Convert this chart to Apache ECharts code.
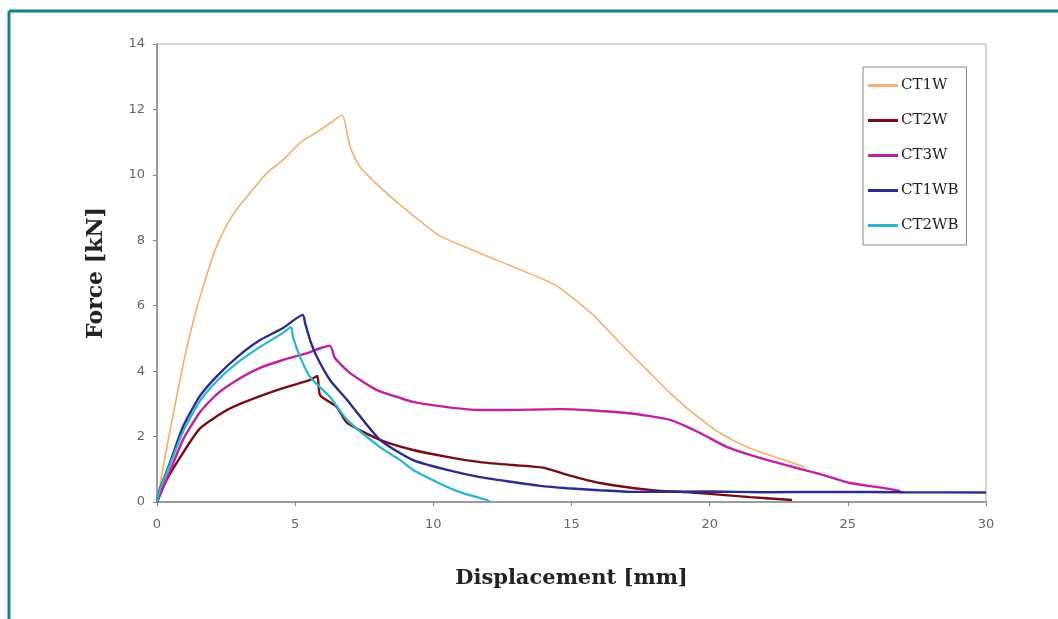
<!DOCTYPE html>
<html><head><meta charset="utf-8">
<script src="https://cdn.jsdelivr.net/npm/echarts@6/dist/echarts.min.js"></script>
<style>html,body{margin:0;padding:0;background:#fff}#c{width:1058px;height:619px}</style>
</head><body><div id="c"></div>
<script>
const seriesNames = ['CT1W','CT2W','CT3W','CT1WB','CT2WB'];
const xTicks = [0,5,10,15,20,25,30];
const yTicks = [0,2,4,6,8,10,12,14];

const ct1w = [[0,0],[0.25,1.2],[0.5,2.3],[0.8,3.6],[1.1,4.8],[1.4,5.8],[1.75,6.8],[2.1,7.7],[2.45,8.35],[2.8,8.85],[3.37,9.45],[3.98,10.06],[4.56,10.46],[5.18,10.98],[5.79,11.31],[6.3,11.6],[6.7,11.83],[6.99,10.85],[7.35,10.24],[8.18,9.54],[8.8,9.08],[9.5,8.6],[10.2,8.15],[11,7.85],[12,7.5],[13,7.15],[14,6.8],[14.59,6.54],[15.78,5.72],[16.76,4.86],[17.73,4.04],[18.57,3.33],[19.4,2.72],[20.38,2.11],[21.35,1.68],[22.44,1.35],[23.45,1.07]];
const ct2w = [[0,0],[0.3,0.6],[0.9,1.45],[1.56,2.25],[2.53,2.81],[3.37,3.12],[4.56,3.48],[5.54,3.73],[5.8,3.85],[5.9,3.27],[6.51,2.9],[6.88,2.42],[8.07,1.9],[9.27,1.59],[10.5,1.38],[11.69,1.22],[12.88,1.13],[13.97,1.05],[14.84,0.83],[16.03,0.58],[17.84,0.37],[19.65,0.27],[21.46,0.15],[22.98,0.06]];
const ct3w = [[0,0],[0.4,0.8],[0.94,1.9],[1.56,2.75],[2.17,3.3],[2.9,3.73],[3.73,4.1],[4.56,4.34],[5.43,4.55],[5.9,4.7],[6.26,4.78],[6.44,4.4],[6.99,3.94],[7.96,3.42],[8.8,3.18],[9.27,3.06],[10.5,2.9],[11.69,2.81],[12.41,2.81],[14.59,2.84],[17.0,2.72],[18.57,2.51],[19.65,2.11],[20.63,1.68],[21.82,1.35],[23.02,1.07],[24.0,0.85],[25.08,0.58],[26.28,0.43],[26.9,0.33]];
const ct1wb = [[0,0],[0.1,0.37],[0.47,1.2],[0.94,2.3],[1.56,3.25],[2.17,3.85],[2.9,4.43],[3.73,4.95],[4.56,5.32],[5.28,5.72],[5.36,5.47],[5.54,4.95],[5.79,4.43],[6.26,3.73],[6.88,3.12],[8.07,1.9],[9.27,1.28],[10.5,0.98],[11.69,0.76],[12.88,0.61],[13.8,0.5],[14.84,0.42],[16,0.36],[17.23,0.31],[20,0.32],[22,0.3],[24.47,0.31],[27,0.3],[30,0.29]];
const ct2wb = [[0,0],[0.1,0.35],[0.47,1.15],[0.94,2.15],[1.56,3.1],[2.17,3.7],[2.9,4.25],[3.73,4.74],[4.56,5.17],[4.85,5.35],[4.92,5.04],[5.18,4.43],[5.54,3.82],[6.26,3.21],[6.88,2.51],[8.07,1.68],[8.8,1.28],[9.27,0.98],[10.5,0.46],[11.07,0.27],[11.94,0.06],[12.05,0]];

const colors = ['#F4B06C','#780C16','#C0229B','#2C2B8E','#28B6CD'];
const widths = [1.6,2.4,2.4,2.4,2.2];
const dataSets = [ct1w, ct2w, ct3w, ct1wb, ct2wb];

const chart = echarts.init(document.getElementById('c'));
chart.setOption({
  animation:false,
  backgroundColor:'#fff',
  grid:{left:157,right:72,top:44,bottom:117,show:true,borderColor:'#aaa',borderWidth:1,backgroundColor:'#fff'},
  xAxis:{type:'value',min:xTicks[0],max:xTicks[xTicks.length-1],interval:5,
    name:'Displacement [mm]',nameLocation:'middle',nameGap:66,
    nameTextStyle:{fontFamily:'DejaVu Serif',fontWeight:'bold',fontSize:21,color:'#222'},
    axisLine:{lineStyle:{color:'#888',width:1.5}},
    axisTick:{show:true,inside:false,length:4,lineStyle:{color:'#888'}},
    axisLabel:{margin:16,fontFamily:'DejaVu Sans',fontSize:13,color:'#666'},
    splitLine:{show:false}},
  yAxis:{type:'value',min:yTicks[0],max:yTicks[yTicks.length-1],interval:2,
    name:'Force [kN]',nameLocation:'middle',nameGap:50,nameRotate:90,
    nameTextStyle:{fontFamily:'DejaVu Serif',fontWeight:'bold',fontSize:22,color:'#222'},
    axisLine:{show:true,lineStyle:{color:'#888',width:1.5}},
    axisTick:{show:true,inside:false,length:4,lineStyle:{color:'#888'}},
    axisLabel:{margin:12,fontFamily:'DejaVu Sans',fontSize:13,color:'#666'},
    splitLine:{show:false}},
  legend:{orient:'vertical',left:863,top:67,width:107,
    padding:[11,8,12,5],itemGap:20,itemWidth:30,itemHeight:3,icon:'rect',
    backgroundColor:'#fff',borderColor:'#888',borderWidth:1,
    textStyle:{fontFamily:'DejaVu Serif',fontSize:15,color:'#222',padding:[0,0,0,-2]},
    data:seriesNames},
  graphic:[
    {type:'line',shape:{x1:9,y1:11,x2:1058,y2:11},style:{stroke:'#13857F',lineWidth:3}},
    {type:'line',shape:{x1:9,y1:11,x2:9,y2:619},style:{stroke:'#13857F',lineWidth:3}}
  ],
  series:seriesNames.map((n,i)=>({name:n,type:'line',data:dataSets[i],symbol:'none',smooth:0.2,
    color:colors[i],lineStyle:{color:colors[i],width:widths[i]}}))
});
</script></body></html>
